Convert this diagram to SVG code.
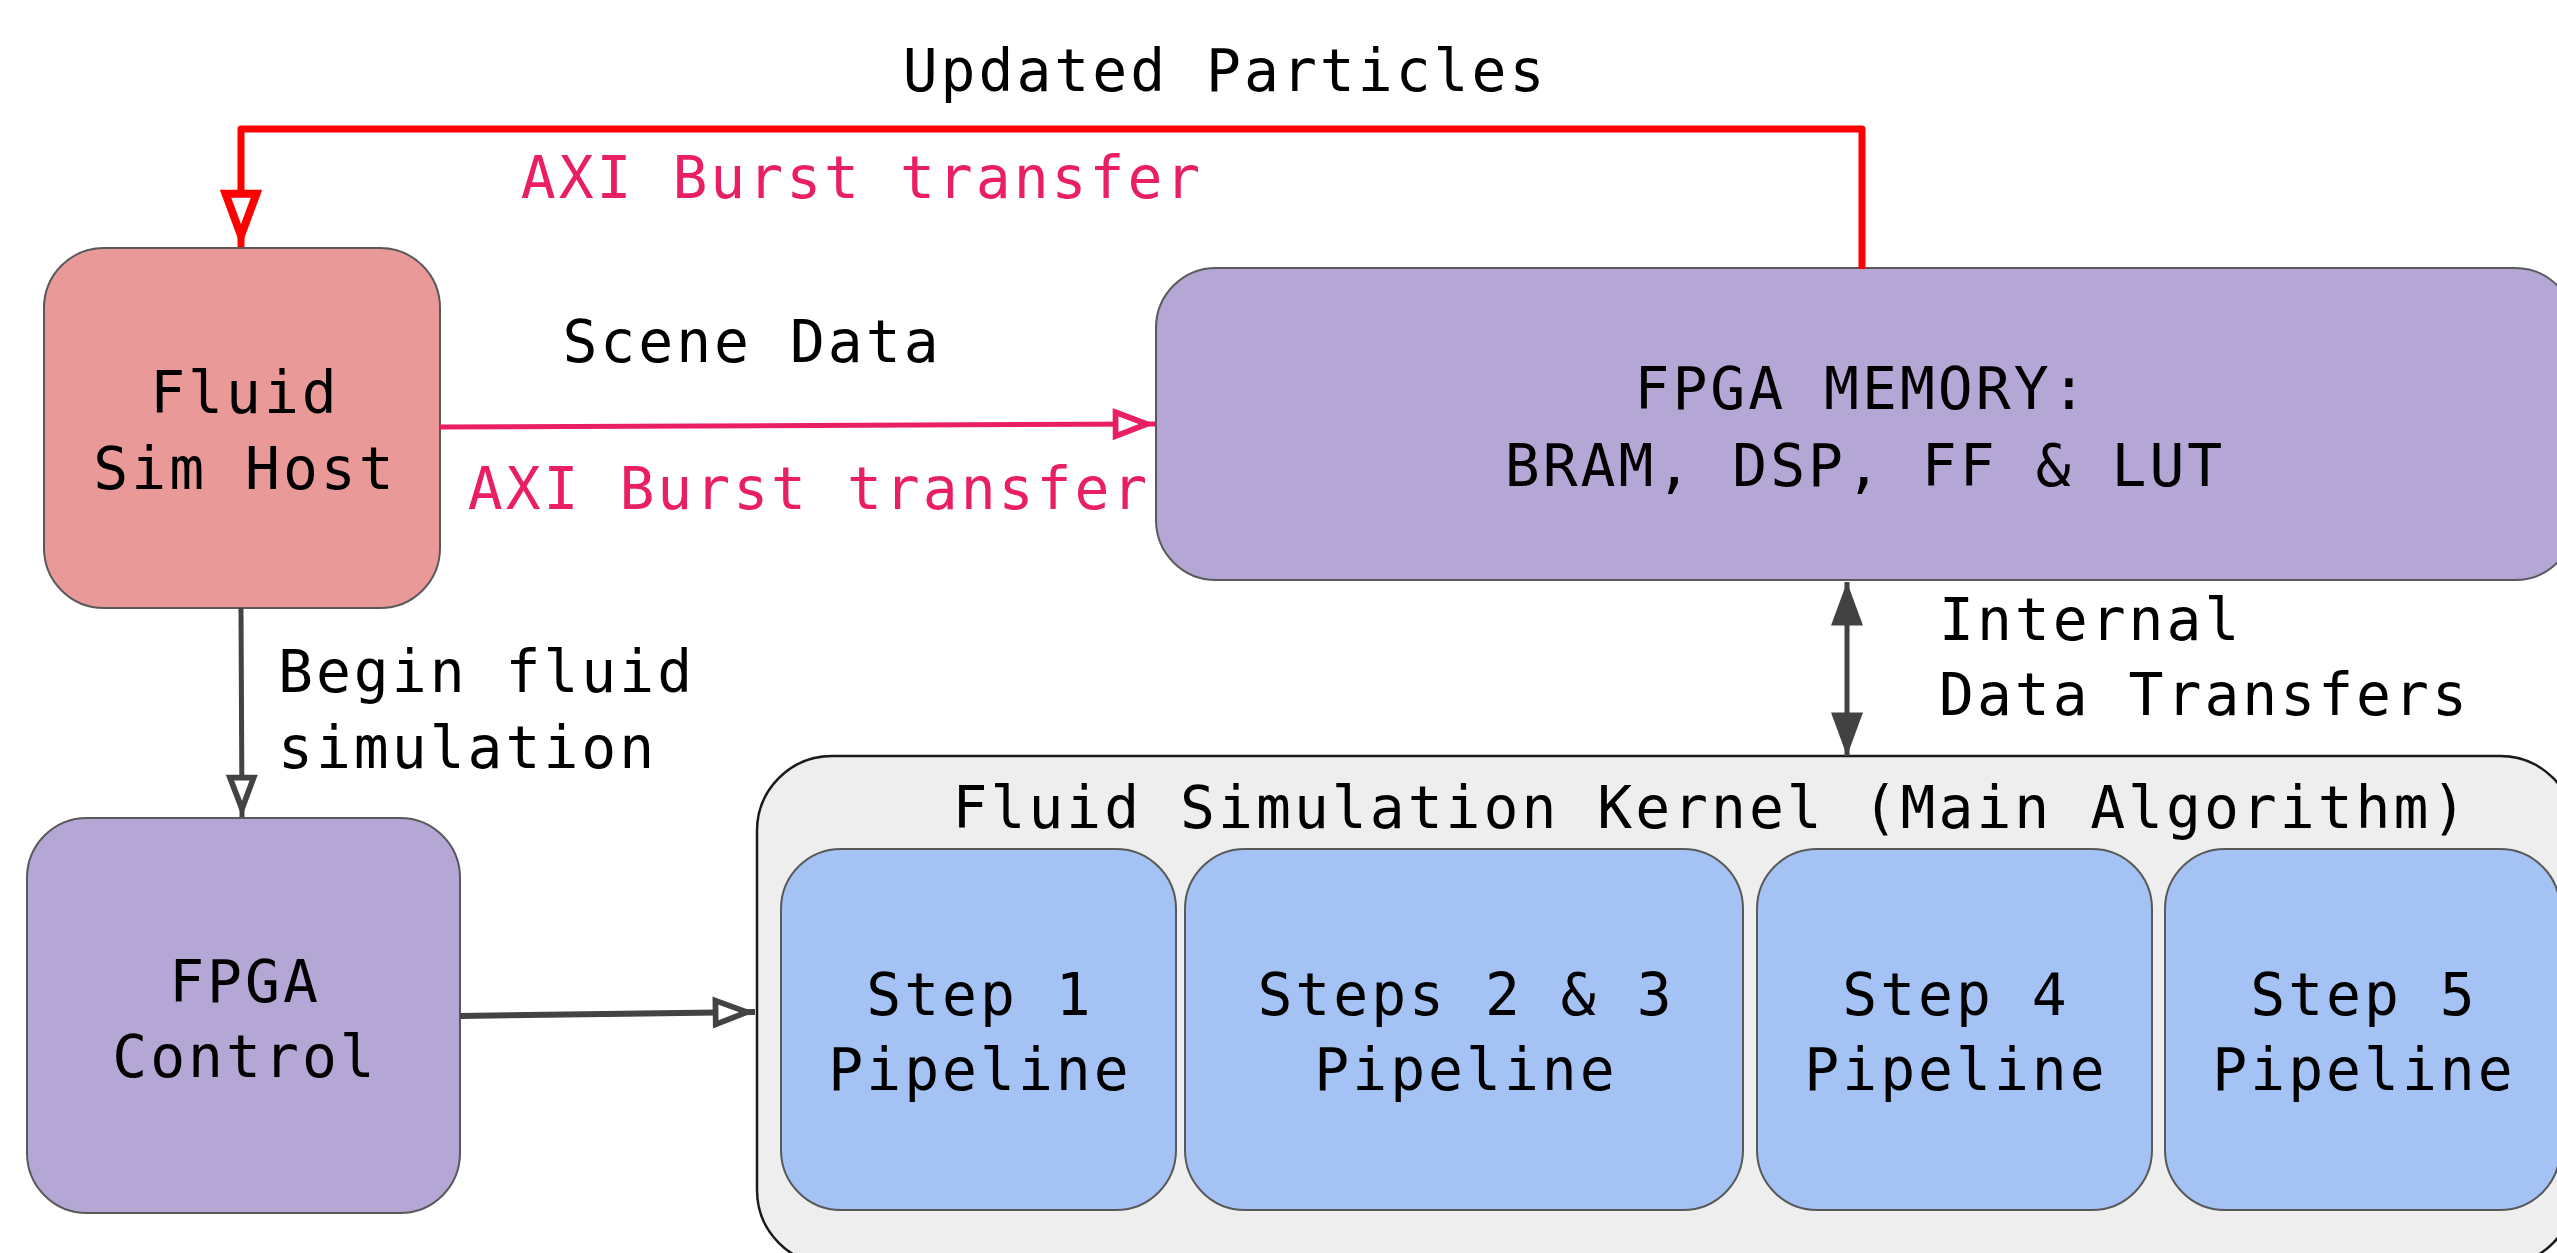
<svg xmlns="http://www.w3.org/2000/svg" width="2557" height="1253" viewBox="0 0 2557 1253">
  <style>
    .lbl { font-family: "DejaVu Sans Mono", "Liberation Mono", monospace; font-size: 58px; letter-spacing: 3px; fill: #000000; }
    .mid { text-anchor: middle; }
    .pink { fill: #e91e63; }
    .box { stroke: #595959; stroke-width: 2; }
    .host { fill: #ea9999; }
    .fpga { fill: #b4a7d6; }
    .step { fill: #a4c2f4; }
    .kernel { fill: #eeeeee; stroke: #1a1a1a; stroke-width: 2.5; }
    .wire { fill: none; }
  </style>
  <defs>
    <marker id="hollowRed" markerUnits="userSpaceOnUse" orient="auto" refX="0" refY="0" markerWidth="80" markerHeight="80" viewBox="-60 -30 70 60" overflow="visible">
      <path d="M-46.5,-13.5 L-10,0 L-46.5,13.5 Z" fill="#ffffff" stroke="#ff0000" stroke-width="7"/>
    </marker>
    <marker id="hollowPink" markerUnits="userSpaceOnUse" orient="auto" refX="0" refY="0" markerWidth="80" markerHeight="80" viewBox="-60 -30 70 60" overflow="visible">
      <path d="M-34.5,-10.4 L-7.1,0 L-34.5,10.4 Z" fill="#ffffff" stroke="#e91e63" stroke-width="5"/>
    </marker>
    <marker id="hollowDark" markerUnits="userSpaceOnUse" orient="auto" refX="0" refY="0" markerWidth="80" markerHeight="80" viewBox="-60 -30 70 60" overflow="visible">
      <path d="M-34.5,-10.4 L-7.1,0 L-34.5,10.4 Z" fill="#ffffff" stroke="#434343" stroke-width="5"/>
    </marker>
    <marker id="solidDark" markerUnits="userSpaceOnUse" orient="auto-start-reverse" refX="0" refY="0" markerWidth="80" markerHeight="80" viewBox="-60 -30 70 60" overflow="visible">
      <path d="M0,0 L-38,-14 L-38,14 Z" fill="#424242"/>
    </marker>
  </defs>

  <rect width="2557" height="1253" fill="#ffffff"/>

  <!-- kernel container with its pipeline stages -->
  <g id="kernel">
    <rect class="kernel" x="757" y="756" width="1818" height="509" rx="75" ry="75"/>
    <text class="lbl mid" x="1711" y="828">Fluid Simulation Kernel (Main Algorithm)</text>
  </g>
  <g id="step1">
    <rect class="box step" x="781" y="849" width="395" height="361" rx="60" ry="60"/>
    <text class="lbl mid" x="980" y="1015">Step 1</text>
    <text class="lbl mid" x="980" y="1090">Pipeline</text>
  </g>
  <g id="step23">
    <rect class="box step" x="1185" y="849" width="558" height="361" rx="60" ry="60"/>
    <text class="lbl mid" x="1466" y="1015">Steps 2 &amp; 3</text>
    <text class="lbl mid" x="1466" y="1090">Pipeline</text>
  </g>
  <g id="step4">
    <rect class="box step" x="1757" y="849" width="395" height="361" rx="60" ry="60"/>
    <text class="lbl mid" x="1956" y="1015">Step 4</text>
    <text class="lbl mid" x="1956" y="1090">Pipeline</text>
  </g>
  <g id="step5">
    <rect class="box step" x="2165" y="849" width="395" height="361" rx="60" ry="60"/>
    <text class="lbl mid" x="2364" y="1015">Step 5</text>
    <text class="lbl mid" x="2364" y="1090">Pipeline</text>
  </g>

  <!-- host node -->
  <g id="host">
    <rect class="box host" x="44" y="248" width="396" height="360" rx="60" ry="60"/>
    <text class="lbl mid" x="245" y="413">Fluid</text>
    <text class="lbl mid" x="245" y="489">Sim Host</text>
  </g>

  <!-- on-chip memory node -->
  <g id="memory">
    <rect class="box fpga" x="1156" y="268" width="1419" height="312" rx="60" ry="60"/>
    <text class="lbl mid" x="1862" y="409">FPGA MEMORY:</text>
    <text class="lbl mid" x="1865" y="486">BRAM, DSP, FF &amp; LUT</text>
  </g>

  <!-- control node -->
  <g id="control">
    <rect class="box fpga" x="27" y="818" width="433" height="395" rx="60" ry="60"/>
    <text class="lbl mid" x="245" y="1002">FPGA</text>
    <text class="lbl mid" x="245" y="1077">Control</text>
  </g>

  <!-- connectors -->
  <g id="connectors">
    <path class="wire" d="M1862,269 L1862,129 L241,129 L241,247" stroke="#ff0000" stroke-width="7" stroke-linejoin="round" marker-end="url(#hollowRed)"/>
    <path class="wire" d="M440,427 L1155,424" stroke="#e91e63" stroke-width="5" marker-end="url(#hollowPink)"/>
    <path class="wire" d="M241,608 L242,817" stroke="#434343" stroke-width="5" marker-end="url(#hollowDark)"/>
    <path class="wire" d="M460,1016 L755,1012" stroke="#434343" stroke-width="6" marker-end="url(#hollowDark)"/>
    <path class="wire" d="M1847,582 L1847,756" stroke="#424242" stroke-width="5" marker-start="url(#solidDark)" marker-end="url(#solidDark)"/>
  </g>

  <!-- connector labels -->
  <g id="labels">
    <text class="lbl mid" x="1225" y="91">Updated Particles</text>
    <text class="lbl mid pink" x="862" y="198">AXI Burst transfer</text>
    <text class="lbl mid" x="752" y="362">Scene Data</text>
    <text class="lbl mid pink" x="809" y="509">AXI Burst transfer</text>
    <text class="lbl" x="1939" y="640">Internal</text>
    <text class="lbl" x="1939" y="715">Data Transfers</text>
    <text class="lbl" x="278" y="692">Begin fluid</text>
    <text class="lbl" x="278" y="768">simulation</text>
  </g>
</svg>
